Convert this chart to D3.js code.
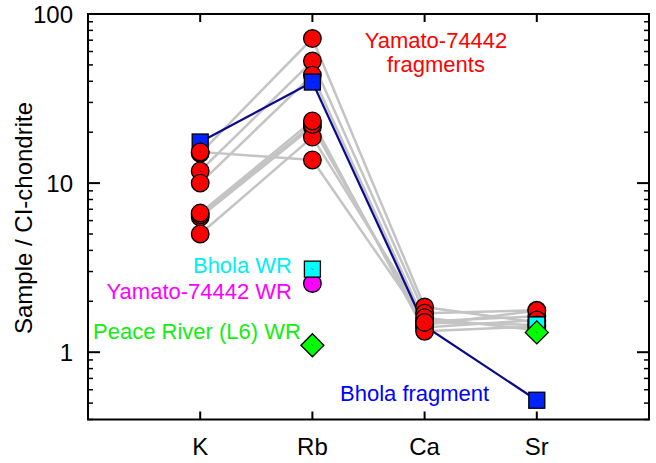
<!DOCTYPE html>
<html>
<head>
<meta charset="utf-8">
<script src="https://cdn.jsdelivr.net/npm/d3@7"></script>
<style>
  html, body { margin: 0; padding: 0; background: #fff; }
  svg { display: block; font-family: "Liberation Sans", Arial, Helvetica, sans-serif; }
</style>
</head>
<body>
<svg id="chart" width="656" height="463"></svg>
<script>
// ---------- data ----------
const elements = ["K", "Rb", "Ca", "Sr"];
const yTickValues = [1, 10, 100];
const yTickLabels = ["1", "10", "100"];

// Yamato-74442 fragments (Sample / CI-chondrite), one array per fragment: [K, Rb, Ca, Sr]
const yamatoFrag1 = [15.3, 13.7, 1.50, 1.45];
const yamatoFrag2 = [15.0, 71.6, 1.85, 1.50];
const yamatoFrag3 = [11.8, 52.7, 1.70, 1.77];
const yamatoFrag4 = [10.0, 43.5, 1.52, 1.63];
const yamatoFrag5 = [6.65, 23.3, 1.33, 1.42];
const yamatoFrag6 = [6.3, 21.5, 1.45, 1.76];
const yamatoFrag7 = [5.0, 18.7, 1.60, 1.35];
const yamatoFrag8 = [6.5, 22.2, 1.40, 1.55];

// Bhola fragment
const bholaFragment = [17.5, 39.6, 1.43, 0.52];

// Whole-rock samples
const bholaWR = [null, 3.10, null, 1.45];
const yamatoWR = [null, 2.55, null, null];
const peaceRiverWR = [null, 1.10, null, 1.31];

// ---------- layout ----------
const svg = d3.select("#chart");
const pLeft = 88, pRight = 649, pTop = 14, pBottom = 419.5;

const x = d3.scaleLinear().domain([0, 5]).range([pLeft, pRight]);
const y = d3.scaleLog().domain([0.4, 100]).range([pBottom, pTop]);
const xPos = i => x(i + 1);

const fragsBelow = [yamatoFrag2, yamatoFrag3, yamatoFrag4, yamatoFrag6, yamatoFrag7, yamatoFrag8];
const fragsAbove = [yamatoFrag5, yamatoFrag1];
const allFrags = fragsBelow.concat(fragsAbove);

const toPoints = arr => arr.map((v, i) => ({ i, v })).filter(d => d.v != null);
const line = d3.line().x(d => xPos(d.i)).y(d => y(d.v));

// gray fragment lines
svg.append("g").selectAll("path").data(allFrags).join("path")
  .attr("d", d => line(toPoints(d)))
  .attr("fill", "none").attr("stroke", "#c4c4c4").attr("stroke-width", 2.5);

// Bhola fragment line
svg.append("path").attr("d", line(toPoints(bholaFragment)))
  .attr("fill", "none").attr("stroke", "#0a0a8c").attr("stroke-width", 2.2);

const R = 8.8, S = 16;
function centerMark(g, cx, cy) {
  g.append("line").attr("x1", cx - 0.8).attr("y1", cy - 0.8).attr("x2", cx + 0.8).attr("y2", cy + 0.8)
    .attr("stroke", "#000").attr("stroke-width", 0.8).attr("opacity", 0.7);
}
function circles(arr, fill) {
  const g = svg.append("g");
  toPoints(arr).forEach(d => {
    g.append("circle").attr("cx", xPos(d.i)).attr("cy", y(d.v)).attr("r", R)
      .attr("fill", fill).attr("stroke", "#000").attr("stroke-width", 1.3);
    centerMark(g, xPos(d.i), y(d.v));
  });
}
function squares(arr, fill) {
  const g = svg.append("g");
  toPoints(arr).forEach(d => {
    g.append("rect").attr("x", xPos(d.i) - S / 2).attr("y", y(d.v) - S / 2)
      .attr("width", S).attr("height", S)
      .attr("fill", fill).attr("stroke", "#000").attr("stroke-width", 1.3);
    centerMark(g, xPos(d.i), y(d.v));
  });
}
function diamonds(arr, fill) {
  const g = svg.append("g");
  const h = 11.5;
  toPoints(arr).forEach(d => {
    const cx = xPos(d.i), cy = y(d.v);
    g.append("path").attr("d", `M${cx},${cy - h}L${cx + h},${cy}L${cx},${cy + h}L${cx - h},${cy}Z`)
      .attr("fill", fill).attr("stroke", "#000").attr("stroke-width", 1.3);
    centerMark(g, cx, cy);
  });
}

fragsBelow.forEach(f => circles(f, "#ff0000"));
squares(bholaFragment, "#0022ff");
fragsAbove.forEach(f => circles(f, "#ff0000"));
circles(yamatoWR, "#ff00ff");
squares(bholaWR, "#00ffff");
diamonds(peaceRiverWR, "#00ff00");

// ---------- frame & ticks ----------
const axis = svg.append("g").attr("stroke", "#000");
axis.append("rect").attr("x", pLeft).attr("y", pTop).attr("width", pRight - pLeft).attr("height", pBottom - pTop)
  .attr("fill", "none").attr("stroke-width", 2);

const minorTicks = [];
[0.1, 1, 10].forEach(dec => d3.range(2, 10).forEach(m => {
  const v = m * dec;
  if (v >= 0.4 && v < 100) minorTicks.push(v);
}));
minorTicks.forEach(v => {
  axis.append("line").attr("x1", pLeft).attr("x2", pLeft + 5).attr("y1", y(v)).attr("y2", y(v)).attr("stroke-width", 1.5);
  axis.append("line").attr("x1", pRight).attr("x2", pRight - 5).attr("y1", y(v)).attr("y2", y(v)).attr("stroke-width", 1.5);
});
yTickValues.forEach(v => {
  axis.append("line").attr("x1", pLeft).attr("x2", pLeft + 12).attr("y1", y(v)).attr("y2", y(v)).attr("stroke-width", 2);
  axis.append("line").attr("x1", pRight).attr("x2", pRight - 12).attr("y1", y(v)).attr("y2", y(v)).attr("stroke-width", 2);
});
elements.forEach((e, i) => {
  axis.append("line").attr("x1", xPos(i)).attr("x2", xPos(i)).attr("y1", pBottom).attr("y2", pBottom - 8).attr("stroke-width", 2);
  axis.append("line").attr("x1", xPos(i)).attr("x2", xPos(i)).attr("y1", pTop).attr("y2", pTop + 8).attr("stroke-width", 2);
});

// tick labels
svg.append("g").selectAll("text").data(yTickValues).join("text")
  .attr("x", 73).attr("y", d => y(d)).attr("dy", "0.36em")
  .attr("text-anchor", "end").attr("font-size", 24).attr("fill", "#000")
  .text((d, i) => yTickLabels[i]);
svg.append("g").selectAll("text").data(elements).join("text")
  .attr("x", (d, i) => xPos(i)).attr("y", 455)
  .attr("text-anchor", "middle").attr("font-size", 24).attr("fill", "#000")
  .text(d => d);

// axis title
svg.append("text").attr("transform", "translate(32,218) rotate(-90)")
  .attr("text-anchor", "middle").attr("font-size", 24).attr("fill", "#000")
  .text("Sample / CI-chondrite");

// annotations
const ann = svg.append("g").attr("font-size", 22);
ann.append("text").attr("x", 436).attr("y", 48).attr("text-anchor", "middle").attr("fill", "#ff0000").text("Yamato-74442");
ann.append("text").attr("x", 436).attr("y", 72).attr("text-anchor", "middle").attr("fill", "#ff0000").text("fragments");
ann.append("text").attr("x", 292).attr("y", 273).attr("text-anchor", "end").attr("fill", "#00f0f0").text("Bhola WR");
ann.append("text").attr("x", 292).attr("y", 299).attr("text-anchor", "end").attr("fill", "#ff00ff").text("Yamato-74442 WR");
ann.append("text").attr("x", 93).attr("y", 339).attr("text-anchor", "start").attr("fill", "#11ee11").text("Peace River (L6) WR");
ann.append("text").attr("x", 340).attr("y", 401).attr("text-anchor", "start").attr("fill", "#0000ff").text("Bhola fragment");
</script>
</body>
</html>
